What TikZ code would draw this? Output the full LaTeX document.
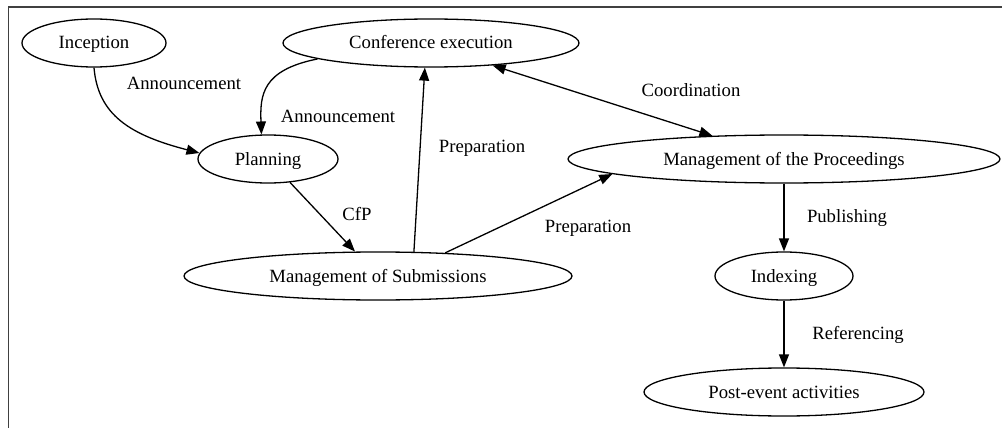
\documentclass[tikz,border=0pt]{standalone}
\usepackage{fontspec}
\setmainfont{Liberation Serif}
\usetikzlibrary{shapes.geometric,arrows.meta}
\begin{document}
\begin{tikzpicture}[x=1pt,y=-1pt,
  every node/.style={font=\fontsize{18.7pt}{22pt}\selectfont, text height=13pt, text depth=1pt, inner sep=0pt},
  ell/.style={draw, ellipse, line width=1.3pt, minimum height=48pt},
  lbl/.style={},
  conn/.style={line width=1.3pt, -{Triangle[length=13pt,width=10pt]}},
  bconn/.style={line width=1.3pt, {Triangle[length=13pt,width=10pt]}-{Triangle[length=13pt,width=10pt]}},
  frameline/.style={draw=black!75, line width=1.6pt}
]
\useasboundingbox (0,0) rectangle (1002,428);
\coordinate (f1) at (8.5,428);
\coordinate (f2) at (8.5,7);
\coordinate (f3) at (1002,7);
\draw[frameline] (f1) -- (f2) -- (f3);

\node[ell, minimum width=144pt] (inc) at (94,43) {Inception};
\node[ell, minimum width=296pt] (ce) at (431,43) {Conference execution};
\node[ell, minimum width=140pt] (plan) at (268,159) {Planning};
\node[ell, minimum width=388pt] (sub) at (378,276) {Management of Submissions};
\node[ell, minimum width=432pt] (proc) at (784,159) {Management of the Proceedings};
\node[ell, minimum width=138pt] (idx) at (784,276) {Indexing};
\node[ell, minimum width=280pt] (post) at (784,392) {Post-event activities};

\draw[conn] (inc.south) .. controls (98,115) and (130,135) .. (plan.175);
\draw[conn] (ce.188) .. controls (262,70) and (260,95) .. (plan.105);
\draw[conn] (plan) -- (sub);
\draw[conn] (sub.34.5) -- (ce.256);
\draw[conn] (sub.19.5) -- (proc.185.4);
\draw[bconn] (ce.-20.4) -- (proc.162);
\draw[conn] (proc.south) -- (idx.north);
\draw[conn] (idx.south) -- (post.north);

\node[lbl] (l1) at (184,83) {Announcement};
\node[lbl] (l2) at (338,116) {Announcement};
\node[lbl] (l3) at (357,214) {CfP};
\node[lbl] (l4) at (482,146) {Preparation};
\node[lbl] (l5) at (588,226) {Preparation};
\node[lbl] (l6) at (691,90) {Coordination};
\node[lbl] (l7) at (847,216) {Publishing};
\node[lbl] (l8) at (858,333) {Referencing};
\end{tikzpicture}
\end{document}
